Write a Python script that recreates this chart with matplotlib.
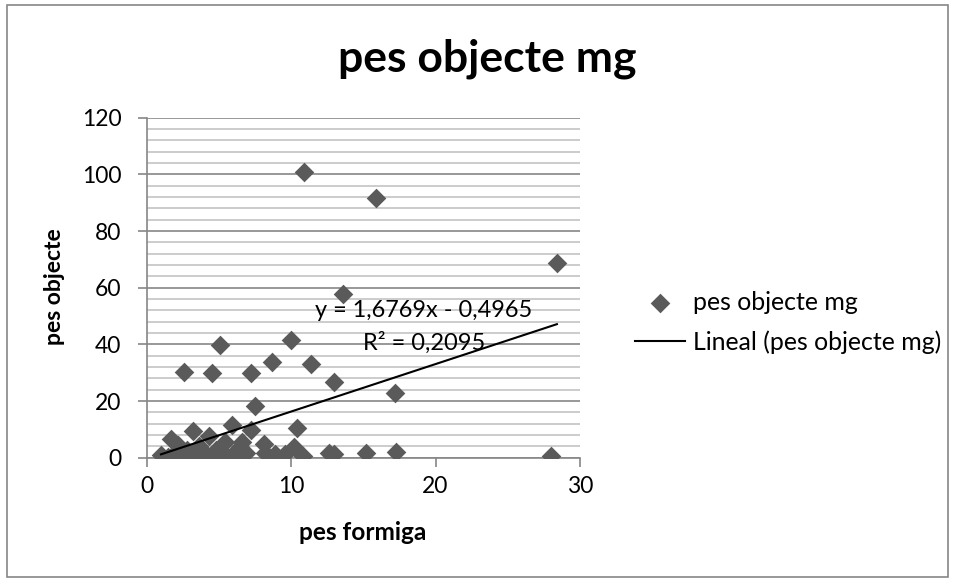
import matplotlib
matplotlib.use("Agg")
import matplotlib.pyplot as plt
from matplotlib.patches import Rectangle
from matplotlib.ticker import MultipleLocator
import numpy as np

plt.rcParams['font.family'] = ['Lato', 'DejaVu Sans']

# pes formiga (x) / pes objecte mg (y)
pes_formiga = [10.9, 15.9, 28.4, 13.6, 10.0, 5.1, 8.7, 11.4, 2.6, 4.5,
               7.2, 13.0, 17.2, 7.5, 5.9, 10.4, 7.2, 3.2, 4.3, 1.7,
               2.2, 5.4, 6.6, 8.1, 10.2, 6.5, 3.6, 2.8, 4.8,
               1.0, 1.5, 1.9, 2.3, 2.7, 3.1, 3.5, 3.9, 4.2, 4.7,
               5.2, 5.6, 6.0, 6.4, 6.9, 8.2, 8.9, 9.6, 10.8, 12.6,
               13.0, 15.2, 17.3, 28.0]
pes_objecte = [100.7, 91.6, 68.7, 57.8, 41.5, 39.6, 33.6, 33.0, 30.3, 30.0,
               29.8, 26.8, 23.0, 18.4, 11.6, 10.5, 9.8, 9.4, 7.8, 6.6,
               4.5, 5.5, 5.6, 4.8, 3.8, 3.8, 4.0, 2.6, 2.8,
               0.8, 0.4, 1.2, 0.3, 0.9, 0.5, 1.5, 0.3, 1.0, 0.6,
               1.6, 0.4, 1.2, 0.7, 1.8, 1.6, 1.2, 1.4, 0.6, 1.6,
               1.4, 1.8, 2.0, 0.5]

# trend line as printed on the chart
slope = 1.6769
intercept = -0.4965

W, H = 954, 579
fig = plt.figure(figsize=(W/100, H/100), dpi=100)
rend = fig.canvas.get_renderer()


def fx(px):
    return px / W


def fy(py):
    return 1 - py / H


def fit(t, target, vertical=False):
    """scale font so the text takes the same room as in the reference"""
    bb = t.get_window_extent(renderer=rend)
    size = bb.height if vertical else bb.width
    t.set_fontsize(t.get_fontsize() * target / size)
    return t.get_fontsize()


ax = fig.add_axes([fx(146.5), fy(457.7), (580 - 146.5)/W, 340/H])

ax.scatter(pes_formiga, pes_objecte, marker='D', s=100, color='#5a5a5a',
           linewidths=0, zorder=3, label='pes objecte mg')

xt = np.array([min(pes_formiga), max(pes_formiga)])
ax.plot(xt, slope*xt + intercept, color='black', lw=1.5, zorder=4,
        label='Lineal (pes objecte mg)')

ax.set_xlim(0, 30)
ax.set_ylim(0, 120)
ax.xaxis.set_major_locator(MultipleLocator(10))
ax.yaxis.set_major_locator(MultipleLocator(20))
ax.yaxis.set_minor_locator(MultipleLocator(4))
ax.grid(which='major', axis='y', color='#868686', lw=1.2)
ax.grid(which='minor', axis='y', color='#c4c4c4', lw=1.2)
ax.set_axisbelow(True)
for s in ['top', 'right']:
    ax.spines[s].set_visible(False)
for s in ['left', 'bottom']:
    ax.spines[s].set_color('#868686')
    ax.spines[s].set_linewidth(1.2)

# tick label size from the width of "120"
probe = fig.text(0, 0, '120', fontsize=10)
tick_fs = fit(probe, 40)
probe.remove()
ax.tick_params(which='major', length=6.7, width=1.2, color='#868686',
               labelsize=tick_fs)
ax.tick_params(axis='y', pad=11.3)
ax.tick_params(axis='x', pad=6.5)
ax.tick_params(which='minor', length=0)

title = fig.text(fx(487.5), fy(71.7), 'pes objecte mg', fontsize=20,
                 fontweight='bold', ha='center', va='baseline')
fit(title, 299)

ylab = fig.text(fx(55), fy(287), 'pes objecte', fontsize=10, rotation=90,
                fontweight='bold', ha='center', va='center')
fit(ylab, 117, vertical=True)
xlab = fig.text(fx(363), fy(533), 'pes formiga', fontsize=10,
                fontweight='bold', ha='center', va='center')
fit(xlab, 127)

# equation labels
eq = fig.text(fx(423.5), fy(311), 'y = 1,6769x - 0,4965', fontsize=10,
              ha='center', va='center')
fit(eq, 217)
r2t = fig.text(fx(424), fy(343), 'R² = 0,2095', fontsize=10,
               ha='center', va='center')
fit(r2t, 122)

# legend, sized so the long entry is as wide as in the reference
probe = fig.text(0, 0, 'Lineal (pes objecte mg)', fontsize=10)
leg_fs = fit(probe, 249)
probe.remove()
fs_px = leg_fs * 100 / 72
row_gap = 46
leg = fig.legend(loc='upper left',
                 bbox_to_anchor=(fx(635), fy(312 - row_gap/2 + 2)),
                 frameon=False, fontsize=leg_fs, borderpad=0,
                 borderaxespad=0, handlelength=50/fs_px,
                 handletextpad=8/fs_px,
                 labelspacing=(row_gap - 1.2*fs_px)/fs_px)

fig.add_artist(Rectangle((fx(7), fy(577)), 941/W, 572/H,
                         transform=fig.transFigure, fill=False,
                         edgecolor='#868686', lw=1.2))

fig.savefig('out.png', dpi=100)
